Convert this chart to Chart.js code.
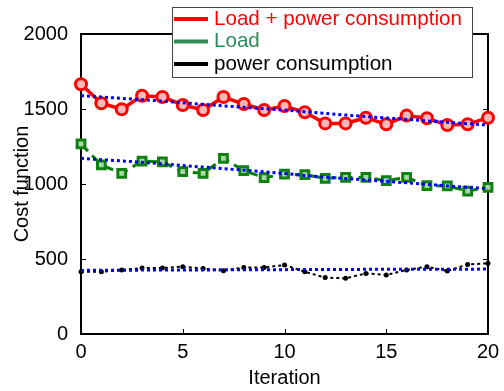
<!DOCTYPE html>
<html>
<head>
<meta charset="utf-8">
<script src="https://cdn.jsdelivr.net/npm/chart.js@4"></script>
<style>
  html, body { margin: 0; padding: 0; background: #fff; }
  #wrap { width: 504px; height: 391px; }
</style>
</head>
<body>
<div id="wrap"><canvas id="costChart" width="504" height="391"></canvas></div>
<script>
const iterations = [0, 1, 2, 3, 4, 5, 6, 7, 8, 9, 10, 11, 12, 13, 14, 15, 16, 17, 18, 19, 20];

const totalCost = [1665, 1538, 1498, 1588, 1580, 1527, 1493, 1580, 1533, 1493, 1520,
  1478, 1404, 1404, 1442, 1398, 1456, 1438, 1393, 1398, 1442];
const totalTrend = [1589, 1580, 1571, 1562, 1553, 1542, 1531, 1521, 1511, 1502, 1493,
  1482, 1471, 1460, 1449, 1440, 1431, 1421, 1411, 1402, 1393];

const loadCost = [1267, 1127, 1071, 1153, 1147, 1082, 1071, 1171, 1089, 1042, 1066,
  1062, 1038, 1044, 1044, 1022, 1044, 989, 987, 953, 978];
const loadTrend = [1171, 1162, 1154, 1145, 1134, 1123, 1113, 1103, 1092, 1082, 1070,
  1057, 1046, 1036, 1027, 1018, 1008, 998, 987, 978, 969];

const powerCost = [415, 415, 427, 440, 440, 449, 436, 422, 444, 444, 460,
  415, 376, 371, 404, 393, 427, 449, 420, 464, 471];
const powerTrend = [424, 425, 425, 426, 426, 427, 427, 428, 428, 429, 429,
  430, 430, 430, 431, 431, 431, 432, 432, 432, 433];

const xTicks = [0, 5, 10, 15, 20];
const yTicks = [0, 500, 1000, 1500, 2000];

const legendItems = [
  { text: "Load + power consumption", color: "#ff0000", textColor: "#ff0000" },
  { text: "Load", color: "#2e8b57", textColor: "#2e8b57" },
  { text: "power consumption", color: "#000000", textColor: "#000000" }
];

const FONT = "'Liberation Sans', Arial, sans-serif";

const pts = vals => vals.map((v, i) => ({ x: iterations[i], y: v }));

// box around the axes with inward ticks, like the original figure
const frame = {
  id: "frame",
  beforeDatasetsDraw(chart) {
    const { ctx, chartArea: a, scales: { x, y } } = chart;
    ctx.save();
    ctx.strokeStyle = "#000";
    ctx.lineWidth = 1;
    ctx.beginPath();
    xTicks.forEach(v => {
      const px = Math.round(x.getPixelForValue(v)) + 0.5;
      ctx.moveTo(px, a.bottom); ctx.lineTo(px, a.bottom - 5);
      ctx.moveTo(px, a.top); ctx.lineTo(px, a.top + 5);
    });
    yTicks.forEach(v => {
      const py = Math.round(y.getPixelForValue(v)) + 0.5;
      ctx.moveTo(a.left, py); ctx.lineTo(a.left + 5, py);
      ctx.moveTo(a.right, py); ctx.lineTo(a.right - 5, py);
    });
    ctx.stroke();
    ctx.lineWidth = 2;
    ctx.strokeRect(a.left, a.top, a.right - a.left, a.bottom - a.top);
    ctx.restore();
  }
};

const boxLegend = {
  id: "boxLegend",
  afterDraw(chart) {
    const ctx = chart.ctx;
    const bx = 172.5, by = 7.5, bw = 300, bh = 70;
    ctx.save();
    ctx.fillStyle = "#fff";
    ctx.fillRect(bx, by, bw, bh);
    ctx.strokeStyle = "#444";
    ctx.lineWidth = 1;
    ctx.strokeRect(bx, by, bw, bh);
    ctx.font = "20.6px " + FONT;
    ctx.textBaseline = "middle";
    legendItems.forEach((item, i) => {
      const cy = 19 + i * 22.5;
      ctx.strokeStyle = item.color;
      ctx.lineWidth = 4;
      ctx.beginPath();
      ctx.moveTo(174, cy);
      ctx.lineTo(208, cy);
      ctx.stroke();
      ctx.fillStyle = item.textColor;
      ctx.fillText(item.text, 214, cy);
    });
    ctx.restore();
  }
};

new Chart(document.getElementById("costChart"), {
  type: "line",
  data: {
    datasets: [
      {
        label: "Load + power consumption fit",
        data: pts(totalTrend),
        borderColor: "#0000ff",
        borderWidth: 3,
        borderDash: [3, 3],
        pointRadius: 0,
        order: 0,
        clip: false
      },
      {
        label: "Load fit",
        data: pts(loadTrend),
        borderColor: "#0000ff",
        borderWidth: 3,
        borderDash: [3, 3],
        pointRadius: 0,
        order: 0,
        clip: false
      },
      {
        label: "power consumption fit",
        data: pts(powerTrend),
        borderColor: "#0000ff",
        borderWidth: 3,
        borderDash: [3, 3],
        pointRadius: 0,
        order: 0,
        clip: false
      },
      {
        label: "Load + power consumption",
        data: pts(totalCost),
        borderColor: "#ff0000",
        borderWidth: 3.5,
        pointStyle: "circle",
        pointRadius: 5.5,
        pointBorderWidth: 3,
        pointBackgroundColor: "#ffb8b8",
        pointBorderColor: "#ff0000",
        order: 1,
        clip: false
      },
      {
        label: "Load",
        data: pts(loadCost),
        borderColor: "#008000",
        borderWidth: 3,
        borderDash: [10, 6],
        pointStyle: "rect",
        pointRadius: 5.5,
        pointBorderWidth: 3,
        pointBackgroundColor: "#a8d8a8",
        pointBorderColor: "#108010",
        order: 1,
        clip: false
      },
      {
        label: "power consumption",
        data: pts(powerCost),
        borderColor: "#000000",
        borderWidth: 2,
        borderDash: [3, 3],
        pointStyle: "circle",
        pointRadius: 2.5,
        pointBorderWidth: 0,
        pointBackgroundColor: "#000000",
        order: 1,
        clip: false
      }
    ]
  },
  options: {
    responsive: false,
    animation: false,
    layout: { padding: { top: 34, right: 16, left: 0, bottom: 0 } },
    plugins: {
      legend: { display: false },
      tooltip: { enabled: false }
    },
    scales: {
      x: {
        type: "linear",
        min: 0,
        max: 20,
        afterFit: s => { s.height = 57; },
        afterBuildTicks: s => { s.ticks = xTicks.map(v => ({ value: v })); },
        grid: { display: false },
        border: { display: false },
        ticks: {
          color: "#000",
          padding: -2,
          font: { family: FONT, size: 20 },
          callback: v => String(v)
        },
        title: {
          display: true,
          text: "Iteration",
          color: "#000",
          padding: { top: 0, bottom: 1 },
          font: { family: FONT, size: 20 }
        }
      },
      y: {
        min: 0,
        max: 2000,
        afterFit: s => { s.width = 81; },
        afterBuildTicks: s => { s.ticks = yTicks.map(v => ({ value: v })); },
        grid: { display: false },
        border: { display: false },
        ticks: {
          color: "#000",
          padding: 5,
          font: { family: FONT, size: 20 },
          callback: v => String(v)
        },
        title: {
          display: true,
          text: "Cost function",
          color: "#000",
          padding: { top: 10, bottom: 0 },
          font: { family: FONT, size: 20 }
        }
      }
    }
  },
  plugins: [frame, boxLegend]
});
</script>
</body>
</html>
